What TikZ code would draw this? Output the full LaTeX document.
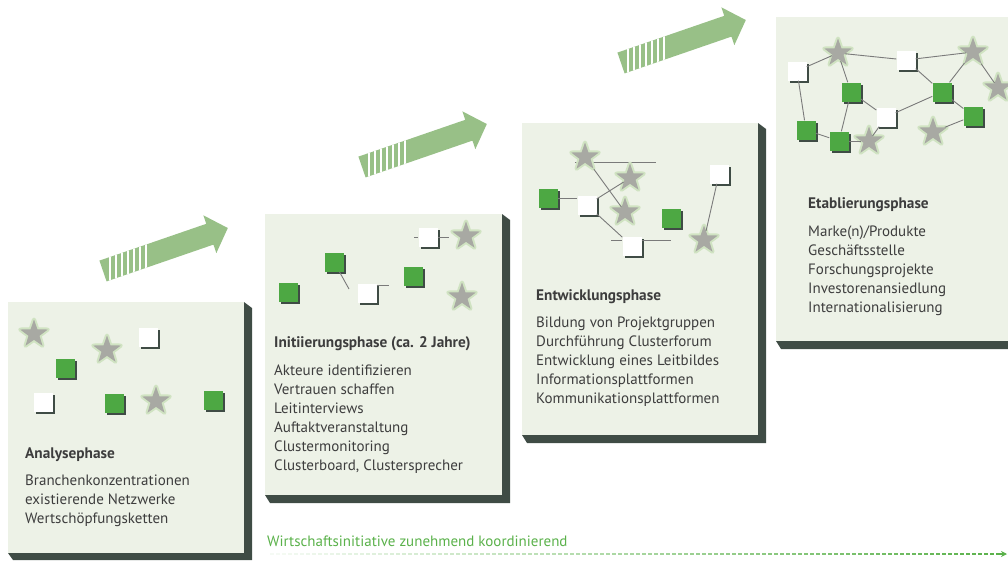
\documentclass[tikz,border=0pt]{standalone}
\usepackage{fontspec}
\setmainfont{PT Sans}
\usetikzlibrary{shapes.geometric,shadows,calc,arrows.meta}
\definecolor{panelfill}{HTML}{EDF2E7}
\definecolor{panelshade}{HTML}{3F4C45}
\definecolor{sqgreen}{HTML}{4DA843}
\definecolor{stargray}{HTML}{A8A9A3}
\definecolor{starglow}{HTML}{D0E3C2}
\definecolor{arrowgreen}{HTML}{98C087}
\definecolor{linkgray}{HTML}{7A7A7A}
\definecolor{textgray}{HTML}{3D3D3D}
\definecolor{notegreen}{HTML}{5AB14A}
\begin{document}
\begin{tikzpicture}[x=1pt,y=1pt]
        \tikzstyle{every node}+=[inner sep=0pt]
        \tikzstyle{wsq}=[minimum size=19, fill=white, drop shadow={shadow xshift=2.5pt, shadow yshift=-2.5pt, fill=panelshade, opacity=1}]
        \tikzstyle{gsq}=[wsq, fill=sqgreen]
        \tikzstyle{clstar}=[star, star points=5, star point ratio=2.5, minimum size=29, fill=stargray, preaction={draw=starglow, line width=4, line join=round}]
        \tikzstyle{link}=[draw=linkgray, line width=0.9]
        \tikzstyle{phasetitle}=[font=\bfseries\fontsize{15.3}{19}\selectfont, text=textgray, anchor=base west]
        \tikzstyle{phasebody}=[font=\fontsize{15}{19}\selectfont, text=textgray, align=left, anchor=base west]
        \useasboundingbox (0,0) rectangle (1008,-560);
        \clip (0,0) rectangle (1008,-560);
        \fill [panelshade] (244,-302) -- (252,-308) -- (252,-560) -- (13,-560) -- (8,-553) -- cycle;
        \fill [panelfill] (8,-302) rectangle (244,-553);
        \fill [panelshade] (502,-214) -- (510,-220) -- (510,-503) -- (270,-503) -- (265,-495) -- cycle;
        \fill [panelfill] (265,-214) rectangle (502,-495);
        \fill [panelshade] (758,-123) -- (766,-129) -- (766,-443) -- (527,-443) -- (522,-435) -- cycle;
        \fill [panelfill] (522,-123) rectangle (758,-435);
        \fill [panelshade] (1016,-17) -- (1024,-23) -- (1024,-349) -- (781,-349) -- (776,-341) -- cycle;
        \fill [panelfill] (776,-17) rectangle (1016,-341);
        \foreach \tx/\ty in {103/-271, 362/-167, 621/-63} {
          \begin{scope}[shift={(\tx,\ty)}, rotate=19]
            \fill [arrowgreen] (0,11) -- (113,11) -- (113,20) -- (132,0) -- (113,-20) -- (113,-11) -- (0,-11) -- cycle;
            \clip (0,11) rectangle (113,-11);
            \begin{scope}[rotate=-19]
              \foreach \s in {7,13,...,43}
                \draw [white, line width=2] (\s,-40) -- (\s,40);
            \end{scope}
          \end{scope}
        }
        \node [clstar] (s1a) at (34,-334) {};
        \node [wsq] (w1a) at (148,-337) {};
        \node [clstar] (s1b) at (107,-350) {};
        \node [gsq] (g1a) at (65,-368) {};
        \node [wsq] (w1b) at (43,-402) {};
        \node [gsq] (g1b) at (114,-403) {};
        \node [clstar] (s1c) at (156,-401) {};
        \node [gsq] (g1c) at (213,-400) {};
        \node [wsq] (w2a) at (428,-237) {};
        \node [clstar] (s2a) at (466,-236) {};
        \node [gsq] (g2a) at (334,-262) {};
        \node [wsq] (w2b) at (367,-293) {};
        \node [gsq] (g2b) at (413,-276) {};
        \node [gsq] (g2c) at (288,-292) {};
        \node [clstar] (s2b) at (462,-297) {};
        \coordinate (e2a) at (414,-237);
        \coordinate (e2b) at (449,-237);
        \coordinate (e2c) at (349,-289);
        \coordinate (e2d) at (389,-285);
        \draw [link] (e2a) -- (w2a.west);
        \draw [link] (w2a.east) -- (e2b);
        \draw [link] (g2a) -- (e2c);
        \draw [link] (w2b.east |- e2d) -- (e2d);
        \coordinate (e3a) at (575,-162);
        \coordinate (e3b) at (656,-162);
        \draw [link] (e3a) -- (e3b);
        \node [clstar] (s3a) at (585,-157) {};
        \node [clstar] (s3b) at (630,-178) {};
        \node [gsq] (g3a) at (548,-198) {};
        \node [wsq] (w3a) at (587,-205) {};
        \node [clstar] (s3c) at (625,-212) {};
        \node [gsq] (g3b) at (671,-218) {};
        \node [wsq] (w3b) at (632,-246) {};
        \node [wsq] (w3c) at (719,-174) {};
        \node [clstar] (s3d) at (704,-240) {};
        \coordinate (e3c) at (611,-240);
        \coordinate (e3d) at (671,-240);
        \draw [link] (g3a.east) -- (g3a.east -| w3a.west);
        \draw [link] (w3a) -- (s3b);
        \draw [link] (s3a) -- (s3c);
        \draw [link] (w3a) -- (w3b);
        \draw [link] (e3c) -- (w3b.west |- e3c);
        \draw [link] (w3b.east |- e3d) -- (e3d);
        \draw [link] (w3c) -- (s3d);
        \node [wsq] (w4a) at (797,-71) {};
        \node [clstar] (s4a) at (838,-53) {};
        \node [wsq] (w4b) at (906,-60) {};
        \node [clstar] (s4b) at (973,-52) {};
        \node [clstar] (s4c) at (998,-88) {};
        \node [gsq] (g4a) at (851,-92) {};
        \node [gsq] (g4b) at (942,-92) {};
        \node [wsq] (w4c) at (886,-117) {};
        \node [gsq] (g4c) at (973,-116) {};
        \node [clstar] (s4d) at (933,-132) {};
        \node [gsq] (g4d) at (806,-130) {};
        \node [gsq] (g4e) at (839,-141) {};
        \node [clstar] (s4e) at (869,-141) {};
        \draw [link] (w4a) -- (s4a);
        \draw [link] (s4a) -- (w4b);
        \draw [link] (w4b) -- (s4b);
        \draw [link] (s4b) -- (s4c);
        \draw [link] (s4a) -- (g4a);
        \draw [link] (s4b) -- (g4b);
        \draw [link] (w4b) -- (g4b);
        \draw [link] (g4a) -- (w4c);
        \draw [link] (w4c) -- (g4b);
        \draw [link] (g4b) -- (g4c);
        \draw [link] (g4c) -- (s4d);
        \draw [link] (w4a) -- (g4d);
        \draw [link] (g4d) -- (g4e);
        \draw [link] (g4a) -- (g4e);
        \draw [link] (g4e) -- (s4e);
        \draw [link] (s4e) -- (w4c);
        \node [phasetitle] (t1) at (25,-458) {Analysephase};
        \node [phasebody] (b1) at ($(t1.base west)+(0,-65)$) {Branchenkonzentrationen\\existierende Netzwerke\\Wertschöpfungsketten};
        \node [phasetitle] (t2) at (274,-347) {Initiierungsphase (ca. 2 Jahre)};
        \node [phasebody] (b2) at ($(t2.base west)+(0,-123)$) {Akteure identifizieren\\Vertrauen schaffen\\Leitinterviews\\Auftaktveranstaltung\\Clustermonitoring\\Clusterboard, Clustersprecher};
        \node [phasetitle] (t3) at (536,-300) {Entwicklungsphase};
        \node [phasebody] (b3) at ($(t3.base west)+(0,-103)$) {Bildung von Projektgruppen\\Durchführung Clusterforum\\Entwicklung eines Leitbildes\\Informationsplattformen\\Kommunikationsplattformen};
        \node [phasetitle] (t4) at (808,-208) {Etablierungsphase};
        \node [phasebody] (b4) at ($(t4.base west)+(0,-104)$) {Marke(n)/Produkte\\Geschäftsstelle\\Forschungsprojekte\\Investorenansiedlung\\Internationalisierung};
        \node [font=\fontsize{15}{18}\selectfont, text=notegreen, anchor=base west] (note) at (267,-546) {Wirtschaftsinitiative zunehmend koordinierend};
        \coordinate (lstart) at (270,-554);
        \coordinate (lend) at (1007,-554);
        \foreach \i [evaluate=\i as \p using {int(6+94*\i/121)}] in {0,...,121}
          \draw [notegreen!\p!white, line width=1.1] ($(lstart)+(6*\i,0)$) -- ++(4,0);
        \draw [notegreen, line width=1.1, -{Stealth[length=6,width=6]}] ($(lend)+(-7,0)$) -- (lend);
\end{tikzpicture}
\end{document}
